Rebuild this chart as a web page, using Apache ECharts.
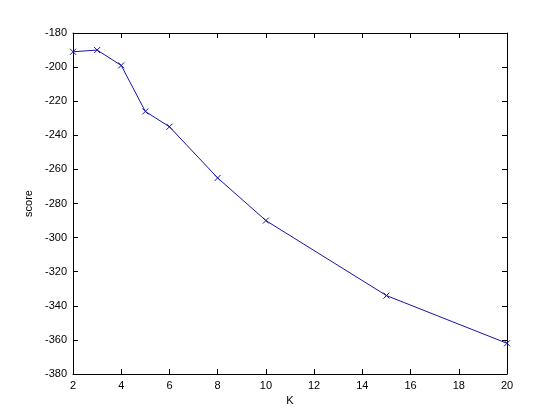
<!DOCTYPE html>
<html><head><meta charset="utf-8">
<script src="https://cdn.jsdelivr.net/npm/echarts@6/dist/echarts.min.js"></script>
<style>html,body{margin:0;padding:0;background:#fff}#c{width:560px;height:420px}</style>
</head><body><div id="c"></div>
<script>
const kValues = [2, 3, 4, 5, 6, 8, 10, 15, 20];
const scores = [-191, -190, -199, -226, -235, -265, -290, -334, -362];
const xTitle = 'K';
const yTitle = 'score';

const chart = echarts.init(document.getElementById('c'), null, {renderer: 'canvas'});
const font = {fontFamily: 'Liberation Sans, Arial, sans-serif', fontSize: 11, color: '#000'};
const axLine = {show: true, lineStyle: {color: '#000', width: 1}};
const tick = {show: true, inside: true, length: 5, lineStyle: {color: '#000', width: 1}};
const blue = '#1414a8';
chart.setOption({
  animation: false,
  backgroundColor: '#fff',
  grid: {left: 73, right: 53, top: 33, bottom: 46, containLabel: false},
  xAxis: [
    {type: 'value', min: 2, max: 20, interval: 2, position: 'bottom',
     name: xTitle, nameLocation: 'middle', nameGap: 21, nameTextStyle: font,
     axisLine: axLine, axisTick: tick, splitLine: {show: false},
     axisLabel: Object.assign({margin: 6}, font)},
    {type: 'value', min: 2, max: 20, interval: 2, position: 'top',
     axisLine: axLine, axisTick: tick, splitLine: {show: false}, axisLabel: {show: false}}
  ],
  yAxis: [
    {type: 'value', min: -380, max: -180, interval: 20, position: 'left',
     name: yTitle, nameLocation: 'middle', nameGap: 38, nameRotate: 90, nameTextStyle: font,
     axisLine: axLine, axisTick: tick, splitLine: {show: false},
     axisLabel: Object.assign({margin: 6}, font)},
    {type: 'value', min: -380, max: -180, interval: 20, position: 'right',
     axisLine: axLine, axisTick: tick, splitLine: {show: false}, axisLabel: {show: false}}
  ],
  series: [{
    type: 'line',
    data: kValues.map((k, i) => [k, scores[i]]),
    symbol: 'path://M0,0L10,10M10,0L0,10',
    symbolSize: 6,
    showAllSymbol: true,
    lineStyle: {color: blue, width: 1},
    itemStyle: {color: blue, borderColor: blue, borderWidth: 1},
    clip: false
  }]
});
</script></body></html>
